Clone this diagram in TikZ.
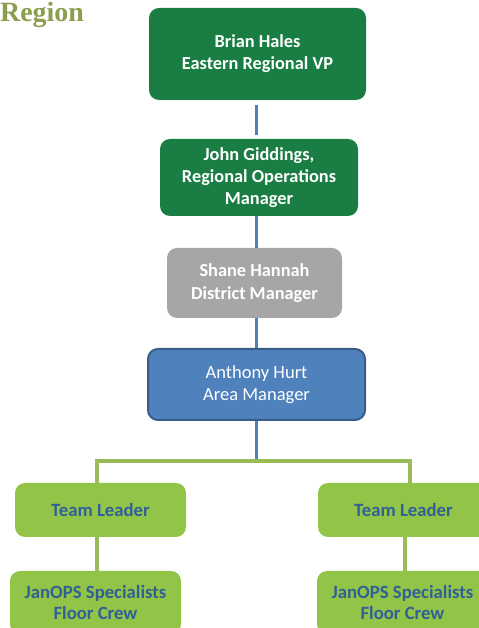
\documentclass[tikz,border=0pt]{standalone}
\usepackage{fontspec}
\setmainfont{Carlito}
\newfontfamily\titlefont{Liberation Serif}
\definecolor{darkgrn}{RGB}{26,126,68}
\definecolor{greybox}{RGB}{166,166,166}
\definecolor{bluebox}{RGB}{79,129,189}
\definecolor{blueedge}{RGB}{56,93,138}
\definecolor{limebox}{RGB}{146,196,72}
\definecolor{limeline}{RGB}{155,187,89}
\definecolor{navytext}{RGB}{49,96,150}
\definecolor{olivetext}{RGB}{140,158,78}
\tikzset{
  orgbox/.style={rectangle,rounded corners=10bp,inner sep=0pt,align=center,
    font=\fontsize{18.6}{22}\selectfont},
  vpbox/.style={orgbox,fill=darkgrn,text=white,font=\fontsize{18.4}{22}\selectfont\bfseries},
  dmbox/.style={orgbox,fill=greybox,text=white,font=\fontsize{18.4}{23}\selectfont\bfseries},
  ambox/.style={orgbox,fill=bluebox,draw=blueedge,line width=2bp,text=white},
  teambox/.style={orgbox,fill=limebox,text=navytext,font=\fontsize{18.8}{21}\selectfont\bfseries},
  blueline/.style={draw=bluebox,line width=3bp},
  limeline/.style={draw=limeline,line width=4bp},
}
\begin{document}
\begin{tikzpicture}[>=latex,line join=bevel,]
        \useasboundingbox (0bp,0bp) rectangle (479bp,628bp);
        \clip (0bp,0bp) rectangle (479bp,628bp);
        %%
        \node (title) at (0bp,606bp) [anchor=base west,inner sep=0pt,text=olivetext,font=\titlefont\fontsize{28}{28}\selectfont\bfseries] {Region};
        \node (vp) at (257.5bp,574.0bp) [vpbox,minimum width=217bp,minimum height=92bp] {Brian Hales\\Eastern Regional VP};
        \node (rom) at (259.0bp,450.5bp) [vpbox,minimum width=198bp,minimum height=77bp] {John Giddings,\\Regional Operations\\Manager};
        \node (dm) at (254.5bp,345.0bp) [dmbox,minimum width=175bp,minimum height=70bp] {Shane Hannah\\District Manager};
        \node (am) at (256.5bp,243.5bp) [ambox,minimum width=217bp,minimum height=71bp] {Anthony Hurt\\Area Manager};
        \node (tl1) at (100.5bp,118.0bp) [teambox,minimum width=171bp,minimum height=54bp] {Team Leader};
        \node (tl2) at (403.5bp,118.0bp) [teambox,minimum width=171bp,minimum height=54bp] {Team Leader};
        \node (crew1) at (95.5bp,25.5bp) [teambox,minimum width=171bp,minimum height=63bp] {JanOPS Specialists\\Floor Crew};
        \node (crew2) at (402.5bp,25.5bp) [teambox,minimum width=171bp,minimum height=63bp] {JanOPS Specialists\\Floor Crew};
        \coordinate (split) at (256.0bp,167.0bp);
        \coordinate (bl) at (97.0bp,167.0bp);
        \coordinate (br) at (410.0bp,167.0bp);
        %
        \draw [blueline,shorten <=5bp,shorten >=4bp] (vp.south -| split) -- (rom.north -| split);
        \draw [blueline] (rom.south -| split) -- (dm.north -| split);
        \draw [blueline] (dm.south -| split) -- (am.north -| split);
        \draw [blueline] (am.south -| split) -- (split);
        \draw [limeline,line cap=rect] (bl) -- (br);
        \draw [limeline] (bl) -- (bl |- tl1.north);
        \draw [limeline] (br) -- (br |- tl2.north);
        \draw [limeline] (tl1.south -| bl) -- (crew1.north -| bl);
        \draw [limeline] (tl2.south -| 405bp,0) -- (crew2.north -| 405bp,0);
        %
    \end{tikzpicture}
\end{document}
